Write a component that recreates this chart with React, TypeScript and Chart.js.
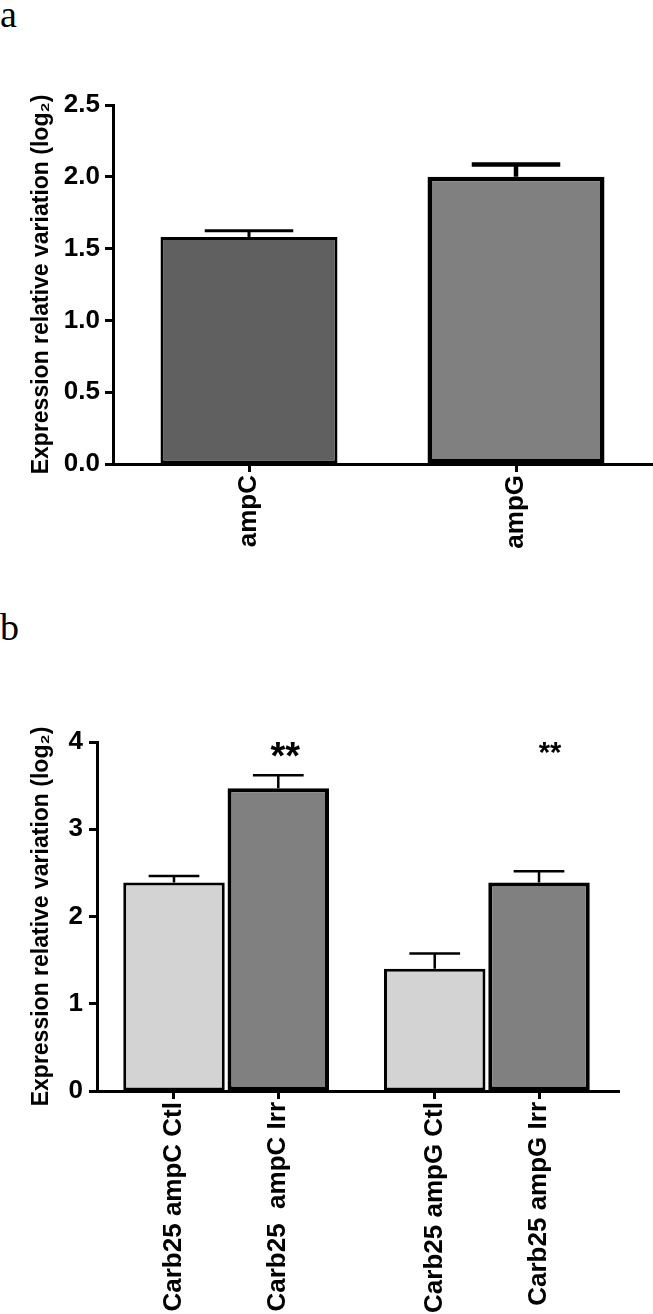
import React, { useEffect, useRef } from "react";
import { Chart, registerables } from "chart.js";

Chart.register(...registerables);

// ---------- data ----------
const genesA = ["ampC", "ampG"];
const meansA = [1.58, 2.0];
const errorsA = [0.045, 0.085];
const yTicksA = [0, 0.5, 1.0, 1.5, 2.0, 2.5];

const samplesB = ["Carb25 ampC Ctl", "Carb25  ampC Irr", "Carb25 ampG Ctl", "Carb25 ampG Irr"];
const meansB = [2.39, 3.47, 1.4, 2.39];
const errorsB = [0.075, 0.15, 0.175, 0.13];
const marksB = ["", "**", "", "**"];
const yTicksB = [0, 1, 2, 3, 4];

const yTitle = "Expression relative variation (log\u2082)";

// ---------- styles ----------
const FONT = "'Liberation Sans', Arial, Helvetica, sans-serif";
const colorsA = ["#606060", "#808080"];
const borderA = [3, 4.5];
const errWidthA = [3, 4.5];
const colorsB = ["#d3d3d3", "#808080", "#d3d3d3", "#808080"];
const borderB = [3, 4, 3, 4];
const errWidthB = [2.5, 2.5, 2.5, 2.5];
const markSizeB = [38, 29];
const markDxB = [7, 11];

function errorBarPlugin(errors: number[], widths: number[]) {
  return {
    id: "errorBars",
    afterDatasetsDraw(chart: any) {
      const meta = chart.getDatasetMeta(0);
      const ys = chart.scales.y;
      const ctx = chart.ctx;
      const data = chart.data.datasets[0].data as any[];
      ctx.save();
      ctx.strokeStyle = "#000";
      ctx.lineCap = "butt";
      meta.data.forEach((el: any, i: number) => {
        const v = data[i].y;
        const { x, width } = el.getProps(["x", "width"], true);
        const y0 = ys.getPixelForValue(v);
        const y1 = ys.getPixelForValue(v + errors[i]);
        const half = width / 4;
        ctx.lineWidth = widths[i];
        ctx.beginPath();
        ctx.moveTo(x, y0);
        ctx.lineTo(x, y1);
        ctx.moveTo(x - half, y1);
        ctx.lineTo(x + half, y1);
        ctx.stroke();
      });
      ctx.restore();
    },
  };
}

function marksPlugin(marks: string[], sizes: number[], dx: number[]) {
  return {
    id: "marks",
    afterDatasetsDraw(chart: any) {
      const meta = chart.getDatasetMeta(0);
      const ctx = chart.ctx;
      const top = chart.chartArea.top;
      let k = 0;
      ctx.save();
      ctx.fillStyle = "#000";
      ctx.textAlign = "center";
      ctx.textBaseline = "alphabetic";
      meta.data.forEach((el: any, i: number) => {
        if (!marks[i]) return;
        const size = sizes[k];
        const off = dx[k];
        k++;
        const { x } = el.getProps(["x"], true);
        ctx.font = `bold ${size}px ${FONT}`;
        ctx.fillText(marks[i], x + off, top + size * 0.73 - 1);
      });
      ctx.restore();
    },
  };
}

function axisCommon() {
  return {
    grid: {
      display: true,
      drawOnChartArea: false,
      drawTicks: true,
      tickLength: 8,
      tickWidth: 3,
      tickColor: "#000",
      offset: false,
    },
    border: { display: true, color: "#000", width: 3 },
  };
}

function makeConfigA(): any {
  return {
    type: "bar",
    data: {
      datasets: [
        {
          data: meansA.map((v, i) => ({ x: i, y: v })),
          backgroundColor: colorsA,
          borderColor: "#000",
          borderWidth: borderA,
          borderSkipped: false,
          barPercentage: 0.663,
          categoryPercentage: 1,
        },
      ],
    },
    options: {
      animation: false,
      responsive: false,
      maintainAspectRatio: false,
      layout: { padding: { top: 105, right: 0, left: 0, bottom: 0 } },
      plugins: { legend: { display: false }, tooltip: { enabled: false } },
      scales: {
        x: {
          type: "linear",
          min: -0.5094,
          max: 1.5131,
          offset: false,
          afterBuildTicks: (s: any) => {
            s.ticks = genesA.map((_, i) => ({ value: i }));
          },
          afterFit: (s: any) => {
            s.height = 136;
          },
          ...axisCommon(),
          ticks: {
            autoSkip: false,
            minRotation: 90,
            maxRotation: 90,
            padding: 3,
            color: "#000",
            font: { family: FONT, size: 26, weight: "bold" },
            callback: (_v: any, i: number) => genesA[i],
          },
        },
        y: {
          type: "linear",
          min: 0,
          max: 2.5,
          afterBuildTicks: (s: any) => {
            s.ticks = yTicksA.map((v) => ({ value: v }));
          },
          afterFit: (s: any) => {
            s.width = 113;
          },
          ...axisCommon(),
          ticks: {
            padding: 5,
            color: "#000",
            font: { family: FONT, size: 26, weight: "bold" },
            callback: (v: any) => Number(v).toFixed(1),
          },
          title: {
            display: true,
            text: yTitle,
            color: "#000",
            font: { family: FONT, size: 23, weight: "bold" },
            padding: { top: 28, bottom: 0 },
          },
        },
      },
    },
    plugins: [errorBarPlugin(errorsA, errWidthA)],
  };
}

function makeConfigB(): any {
  const xPos = (i: number) => Math.floor(i / 2) * 2.5 + (i % 2);
  return {
    type: "bar",
    data: {
      datasets: [
        {
          data: meansB.map((v, i) => ({ x: xPos(i), y: v })),
          backgroundColor: colorsB,
          borderColor: "#000",
          borderWidth: borderB,
          borderSkipped: false,
          barPercentage: 0.973,
          categoryPercentage: 1,
        },
      ],
    },
    options: {
      animation: false,
      responsive: false,
      maintainAspectRatio: false,
      layout: { padding: { top: 92, right: 34, left: 0, bottom: 0 } },
      plugins: { legend: { display: false }, tooltip: { enabled: false } },
      scales: {
        x: {
          type: "linear",
          min: -0.7383,
          max: 4.267,
          offset: false,
          afterBuildTicks: (s: any) => {
            s.ticks = samplesB.map((_, i) => ({ value: xPos(i) }));
          },
          afterFit: (s: any) => {
            s.height = 223;
          },
          ...axisCommon(),
          ticks: {
            autoSkip: false,
            minRotation: 90,
            maxRotation: 90,
            padding: 3,
            color: "#000",
            font: { family: FONT, size: 26, weight: "bold" },
            callback: (_v: any, i: number) => samplesB[i],
          },
        },
        y: {
          type: "linear",
          min: 0,
          max: 4,
          afterBuildTicks: (s: any) => {
            s.ticks = yTicksB.map((v) => ({ value: v }));
          },
          afterFit: (s: any) => {
            s.width = 97;
          },
          ...axisCommon(),
          ticks: {
            padding: 6,
            color: "#000",
            font: { family: FONT, size: 26, weight: "bold" },
            callback: (v: any) => String(v),
          },
          title: {
            display: true,
            text: yTitle,
            color: "#000",
            font: { family: FONT, size: 23, weight: "bold" },
            padding: { top: 28, bottom: 0 },
          },
        },
      },
    },
    plugins: [errorBarPlugin(errorsB, errWidthB), marksPlugin(marksB, markSizeB, markDxB)],
  };
}

function ChartCanvas({ make, top, height }: { make: () => any; top: number; height: number }) {
  const ref = useRef<HTMLCanvasElement | null>(null);
  useEffect(() => {
    if (!ref.current) return;
    const chart = new Chart(ref.current, make());
    return () => chart.destroy();
  }, []);
  return (
    <canvas
      ref={ref}
      width={653}
      height={height}
      style={{ position: "absolute", left: 0, top, width: 653, height }}
    />
  );
}

const letterStyle: React.CSSProperties = {
  position: "absolute",
  left: 0,
  fontFamily: "'Liberation Serif', 'Times New Roman', serif",
  fontSize: 38,
  lineHeight: "38px",
  color: "#000",
  margin: 0,
};

export default function App() {
  return (
    <div style={{ position: "absolute", left: 0, top: 0, width: 653, height: 1314, background: "#fff" }}>
      <div style={{ ...letterStyle, top: -5 }}>a</div>
      <ChartCanvas make={makeConfigA} top={0} height={600} />
      <div style={{ ...letterStyle, top: 608 }}>b</div>
      <ChartCanvas make={makeConfigB} top={650} height={664} />
    </div>
  );
}
